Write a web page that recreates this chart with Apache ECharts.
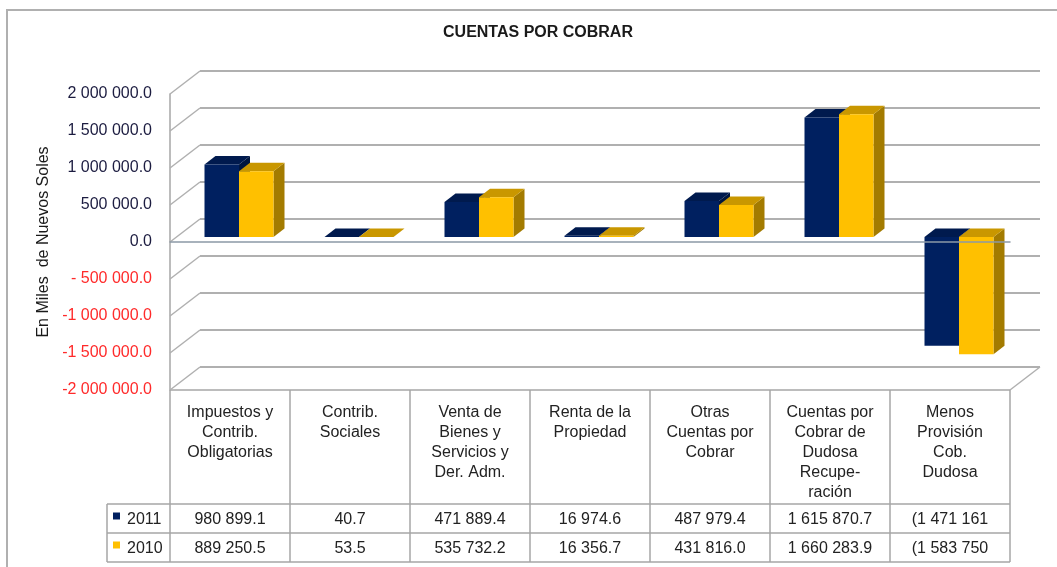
<!DOCTYPE html>
<html>
<head>
<meta charset="utf-8">
<title>Cuentas por Cobrar</title>
<script src="https://cdn.jsdelivr.net/npm/echarts@6/dist/echarts.min.js"></script>
<style>
  html, body { margin: 0; padding: 0; background: #fff; }
  #chart { width: 1057px; height: 567px; }
</style>
</head>
<body>
<div id="chart"></div>
<script>
// categorias (cabecera de la tabla de datos)
var categories = [
  'Impuestos y\nContrib.\nObligatorias',
  'Contrib.\nSociales',
  'Venta de\nBienes y\nServicios y\nDer. Adm.',
  'Renta de la\nPropiedad',
  'Otras\nCuentas por\nCobrar',
  'Cuentas por\nCobrar de\nDudosa\nRecupe-\nración',
  'Menos\nProvisión\nCob.\nDudosa'
];
var years = ['2011', '2010'];
var values2011 = [980899.1, 40.7, 471889.4, 16974.6, 487979.4, 1615870.7, -1471161];
var values2010 = [889250.5, 53.5, 535732.2, 16356.7, 431816.0, 1660283.9, -1583750];
var yTickValues = [-2000000, -1500000, -1000000, -500000, 0, 500000, 1000000, 1500000, 2000000];
var yTickLabels = ['-2 000 000.0', '-1 500 000.0', '-1 000 000.0', '- 500 000.0', '0.0',
                   '500 000.0', '1 000 000.0', '1 500 000.0', '2 000 000.0'];

var FONT = '"Liberation Sans", Arial, sans-serif';
var PLOT = { left: 170, right: 47, top: 94, bottom: 177 };
var WALL = { x: 30, y: -23 };        // desplazamiento de la pared del fondo
var BAR_OFF = { x: 9, y: -5 };       // plano frontal de las barras
var BAR_DEPTH = { x: 11, y: -8.5 };  // profundidad de cada barra
var GRID_COLOR = '#b0b0b0';
var faces = [
  { front: '#002060', top: '#001a4e', side: '#00163f' },
  { front: '#ffc000', top: '#c99700', side: '#a37b00' }
];

function groupDigits(s) {
  return s.replace(/\B(?=(\d{3})+(?!\d))/g, ' ');
}
function cellText(v) {
  if (v < 0) return '(' + groupDigits(String(Math.trunc(-v)));
  var p = v.toFixed(1).split('.');
  return groupDigits(p[0]) + '.' + p[1];
}

function barSeries(k, values) {
  return {
    type: 'custom',
    name: years[k],
    xAxisIndex: 0,
    yAxisIndex: 0,
    z: 3,
    data: values.map(function (v, i) { return [i, v]; }),
    renderItem: function (params, api) {
      var i = api.value(0), v = api.value(1);
      var base = api.coord([i, 0]);
      var end = api.coord([i, v]);
      var w = api.size([1, 0])[0] * 0.2875;
      var x0 = base[0] + BAR_OFF.x + (k === 0 ? -w : 0);
      var y1 = base[1] + BAR_OFF.y, y2 = end[1] + BAR_OFF.y;
      var yt = Math.min(y1, y2), yb = Math.max(y1, y2);
      var dx = BAR_DEPTH.x, dy = BAR_DEPTH.y;
      var c = faces[k];
      return {
        type: 'group',
        children: [
          { type: 'polygon', shape: { points: [[x0 + w, yt], [x0 + w + dx, yt + dy], [x0 + w + dx, yb + dy], [x0 + w, yb]] },
            style: { fill: c.side } },
          { type: 'polygon', shape: { points: [[x0, yt], [x0 + w, yt], [x0 + w + dx, yt + dy], [x0 + dx, yt + dy]] },
            style: { fill: c.top } },
          { type: 'rect', shape: { x: x0, y: yt, width: w, height: yb - yt }, style: { fill: c.front } }
        ]
      };
    }
  };
}

var chart = echarts.init(document.getElementById('chart'));

var option = {
  animation: false,
  backgroundColor: '#fff',
  grid: [
    { left: PLOT.left, right: PLOT.right, top: PLOT.top, bottom: PLOT.bottom },
    { left: PLOT.left + WALL.x, right: PLOT.right - WALL.x, top: PLOT.top + WALL.y, bottom: PLOT.bottom - WALL.y }
  ],
  xAxis: [{
    type: 'category',
    gridIndex: 0,
    data: categories,
    z: 5,
    axisLine: { onZero: true, lineStyle: { color: '#8c99a6', width: 1.5 } },
    axisTick: { show: false },
    axisLabel: { show: false }
  }, {
    type: 'category',
    gridIndex: 1,
    data: categories,
    show: false
  }],
  yAxis: [{
    type: 'value',
    gridIndex: 0,
    min: -2000000,
    max: 2000000,
    interval: 500000,
    name: 'En Miles  de Nuevos Soles',
    nameLocation: 'middle',
    nameGap: 117,
    nameTextStyle: { fontFamily: FONT, fontSize: 16, color: '#1a1a1a' },
    axisLine: { show: true, lineStyle: { color: '#a6a6a6', width: 1.5 } },
    axisTick: { show: false },
    splitLine: { show: false },
    axisLabel: {
      margin: 18,
      formatter: function (v) {
        var label = yTickLabels[yTickValues.indexOf(v)];
        return (v < 0 ? '{neg|' : '{pos|') + label + '}';
      },
      rich: {
        pos: { color: '#1c1c40', fontSize: 16, fontFamily: FONT },
        neg: { color: '#ff2a2a', fontSize: 16, fontFamily: FONT }
      }
    }
  }, {
    type: 'value',
    gridIndex: 1,
    min: -2000000,
    max: 2000000,
    interval: 500000,
    axisLine: { show: false },
    axisTick: { show: false },
    axisLabel: { show: false },
    splitLine: { show: true, lineStyle: { color: GRID_COLOR, width: 2 } }
  }],
  series: [{
    type: 'custom',
    xAxisIndex: 0,
    yAxisIndex: 0,
    z: 1,
    silent: true,
    data: yTickValues.map(function (v) { return [0, v]; }),
    renderItem: function (params, api) {
      var cs = params.coordSys;
      var y = api.coord([0, api.value(1)])[1];
      var kids = [{ type: 'line', shape: { x1: cs.x, y1: y, x2: cs.x + WALL.x, y2: y + WALL.y },
                    style: { stroke: GRID_COLOR, lineWidth: 1.5 } }];
      if (api.value(1) === yTickValues[0]) {
        var xr = cs.x + cs.width;
        kids.push({ type: 'line', shape: { x1: xr, y1: y, x2: xr + WALL.x, y2: y + WALL.y },
                    style: { stroke: GRID_COLOR, lineWidth: 1.5 } });
      }
      return { type: 'group', children: kids };
    }
  },
  barSeries(0, values2011),
  barSeries(1, values2010)]
};
chart.setOption(option);

// tabla de datos bajo el gráfico
var rows = [values2011, values2010];
var xc = categories.map(function (c, i) { return chart.convertToPixel({ xAxisIndex: 0 }, i); });
var band = xc[1] - xc[0];
var xLeft = xc[0] - band / 2, xRight = xc[xc.length - 1] + band / 2;
var tableTop = chart.convertToPixel({ yAxisIndex: 0 }, -2000000);
var headerBottom = tableTop + 114;
var rowH = 29;
var legendLeft = 107;
var tableBottom = headerBottom + rowH * rows.length;
var border = { stroke: '#a6a6a6', lineWidth: 1.5 };

var graphics = [
  { type: 'polyline', shape: { points: [[7, 567], [7, 10], [1057, 10]] },
    style: { stroke: '#b0b0b0', lineWidth: 2, fill: null } },
  { type: 'text', x: 538, y: 33,
    style: { text: 'CUENTAS POR COBRAR', font: 'bold 16px ' + FONT, fill: '#1a1a1a', align: 'center', verticalAlign: 'middle' } },
  { type: 'line', shape: { x1: xLeft, y1: tableTop, x2: xRight, y2: tableTop }, style: border }
];
for (var r = 0; r <= rows.length; r++) {
  var yy = headerBottom + r * rowH;
  graphics.push({ type: 'line', shape: { x1: legendLeft, y1: yy, x2: xRight, y2: yy }, style: border });
}
graphics.push({ type: 'line', shape: { x1: legendLeft, y1: headerBottom, x2: legendLeft, y2: tableBottom }, style: border });
for (var j = 0; j <= categories.length; j++) {
  var xx = xLeft + j * band;
  graphics.push({ type: 'line', shape: { x1: xx, y1: tableTop, x2: xx, y2: tableBottom }, style: border });
}
categories.forEach(function (c, i) {
  graphics.push({ type: 'text', x: xc[i], y: tableTop + 13,
    style: { text: c, fontFamily: FONT, fontSize: 16, lineHeight: 20, fill: '#222', align: 'center', verticalAlign: 'top' } });
  rows.forEach(function (vals, k) {
    graphics.push({ type: 'text', x: xc[i], y: headerBottom + rowH * k + rowH / 2 + 1,
      style: { text: cellText(vals[i]), fontFamily: FONT, fontSize: 16, fill: '#222', align: 'center', verticalAlign: 'middle' } });
  });
});
years.forEach(function (yr, k) {
  var yMid = headerBottom + rowH * k + rowH / 2;
  graphics.push({ type: 'rect', shape: { x: 113, y: yMid - 6, width: 7, height: 7 }, style: { fill: faces[k].front } });
  graphics.push({ type: 'text', x: 127, y: yMid + 1,
    style: { text: yr, fontFamily: FONT, fontSize: 16, fill: '#222', align: 'left', verticalAlign: 'middle' } });
});

chart.setOption({ graphic: graphics });
</script>
</body>
</html>
